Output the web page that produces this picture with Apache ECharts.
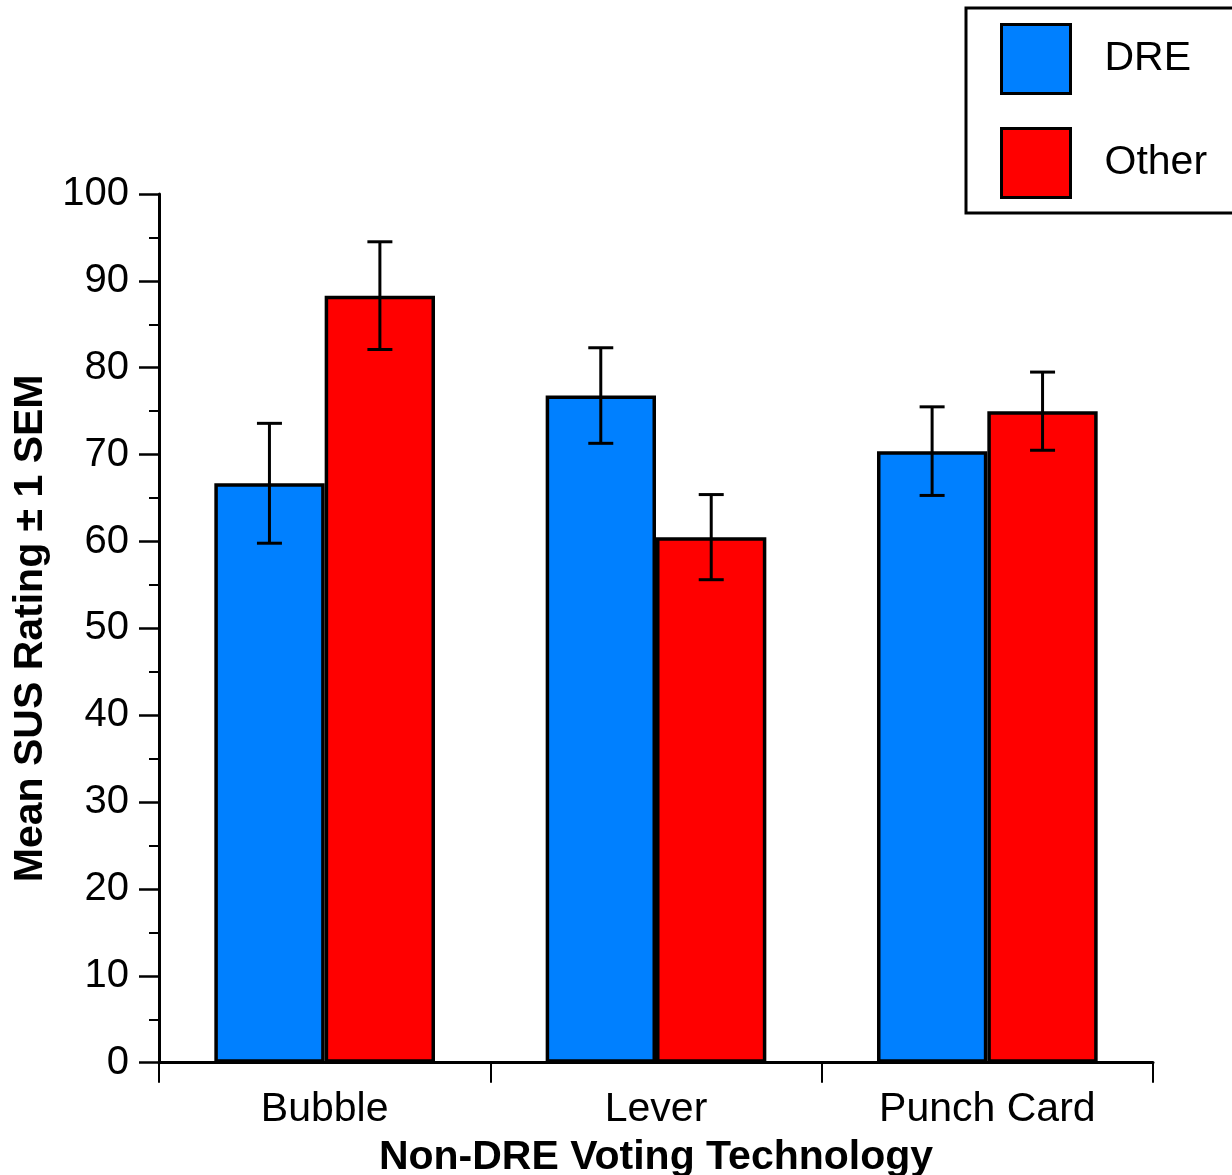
<!DOCTYPE html>
<html>
<head>
<meta charset="utf-8">
<script src="https://cdn.jsdelivr.net/npm/echarts@6/dist/echarts.min.js"></script>
<style>
html,body{margin:0;padding:0;background:#fff;}
#chart{width:1232px;height:1175px;}
</style>
</head>
<body>
<div id="chart"></div>
<script>
const categories = ['Bubble', 'Lever', 'Punch Card'];
const dreMean = [66.7, 76.8, 70.4];
const dreSem = [6.9, 5.5, 5.1];
const otherMean = [88.3, 60.5, 75.0];
const otherSem = [6.2, 4.9, 4.5];
const yTicks = [0, 10, 20, 30, 40, 50, 60, 70, 80, 90, 100];

const FONT = '"Liberation Sans", Arial, Helvetica, sans-serif';

function errData(mean, sem) {
  return mean.map((m, i) => [i, m - sem[i], m + sem[i]]);
}
function errRender(side) {
  return function (params, api) {
    const idx = api.value(0);
    const lo = api.coord([idx, api.value(1)]);
    const hi = api.coord([idx, api.value(2)]);
    const band = api.size([1, 0])[0];
    const x = lo[0] + side * band / 6;
    const cap = 12.5;
    const style = { stroke: '#000', lineWidth: 3, fill: null };
    return {
      type: 'group',
      children: [
        { type: 'line', shape: { x1: x, y1: lo[1], x2: x, y2: hi[1] }, style: style },
        { type: 'line', shape: { x1: x - cap, y1: lo[1], x2: x + cap, y2: lo[1] }, style: style },
        { type: 'line', shape: { x1: x - cap, y1: hi[1], x2: x + cap, y2: hi[1] }, style: style }
      ]
    };
  };
}

const chart = echarts.init(document.getElementById('chart'), null, { renderer: 'canvas' });
chart.setOption({
  animation: false,
  backgroundColor: '#fff',
  textStyle: { fontFamily: FONT, color: '#000' },
  grid: { left: 159, right: 79, top: 194, bottom: 112.3, containLabel: false, outerBoundsMode: 'none' },
  legend: {
    orient: 'vertical',
    left: 966, top: 8,
    padding: [15, 200, 14, 34],
    itemWidth: 69, itemHeight: 69, itemGap: 32,
    borderColor: '#000', borderWidth: 3,
    icon: 'rect',
    itemStyle: { borderColor: '#000', borderWidth: 3 },
    textStyle: { fontSize: 41, fontFamily: FONT, color: '#000', padding: [0, 0, 16, 29] },
    data: ['DRE', 'Other']
  },
  xAxis: {
    type: 'category',
    data: categories,
    name: 'Non-DRE Voting Technology',
    nameLocation: 'middle',
    nameGap: 74,
    nameTextStyle: { fontSize: 41, fontWeight: 'bold', fontFamily: FONT, color: '#000' },
    axisLine: { lineStyle: { color: '#000', width: 3 } },
    axisTick: { show: true, length: 20, lineStyle: { color: '#000', width: 2 } },
    axisLabel: { fontSize: 41, margin: 26, color: '#000', fontFamily: FONT },
    splitLine: { show: false }
  },
  yAxis: {
    type: 'value',
    min: 0, max: 100, interval: 10,
    name: 'Mean SUS Rating ± 1 SEM',
    nameLocation: 'middle',
    nameGap: 108,
    nameRotate: 90,
    nameTextStyle: { fontSize: 41, fontWeight: 'bold', fontFamily: FONT, color: '#000' },
    axisLine: { show: true, lineStyle: { color: '#000', width: 3 } },
    axisTick: { show: true, length: 20, lineStyle: { color: '#000', width: 2.5 } },
    minorTick: { show: true, splitNumber: 2, length: 10, lineStyle: { color: '#000', width: 2 } },
    axisLabel: {
      fontSize: 40, margin: 30, color: '#000', fontFamily: FONT,
      formatter: function (v) { return yTicks.indexOf(v) >= 0 ? String(v) : ''; }
    },
    splitLine: { show: false }
  },
  series: [
    {
      name: 'DRE', type: 'bar', data: dreMean,
      barGap: '0%', barCategoryGap: '33.4%',
      itemStyle: { color: '#0080FF', borderColor: '#000', borderWidth: 3.5 }
    },
    {
      name: 'Other', type: 'bar', data: otherMean,
      barGap: '0%', barCategoryGap: '33.4%',
      itemStyle: { color: '#FF0000', borderColor: '#000', borderWidth: 3.5 }
    },
    {
      type: 'custom', name: 'DRE err', z: 10,
      renderItem: errRender(-1),
      encode: { x: 0, y: [1, 2] },
      data: errData(dreMean, dreSem)
    },
    {
      type: 'custom', name: 'Other err', z: 10,
      renderItem: errRender(1),
      encode: { x: 0, y: [1, 2] },
      data: errData(otherMean, otherSem)
    }
  ]
});
</script>
</body>
</html>
